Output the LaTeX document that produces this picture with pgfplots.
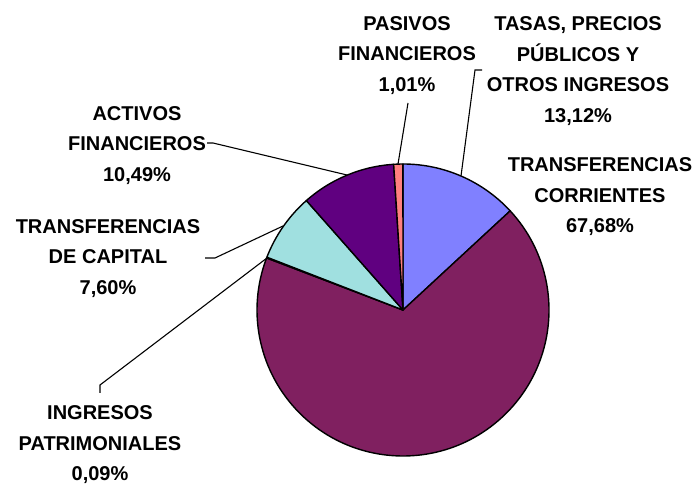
\documentclass[border=0pt]{standalone}
\usepackage{fontspec}
\setmainfont{Liberation Sans}
\usepackage{pgfplots}
\pgfplotsset{compat=1.18}
\definecolor{cTasas}{HTML}{8080FF}
\definecolor{cCorr}{HTML}{802060}
\definecolor{cPatr}{HTML}{FFFFC0}
\definecolor{cCap}{HTML}{A0E0E0}
\definecolor{cAct}{HTML}{600080}
\definecolor{cPas}{HTML}{FF8080}
\tikzset{lbl/.style={font=\bfseries\fontsize{20}{30.5}\selectfont, align=center, inner sep=0pt}}
\begin{document}
\begin{tikzpicture}
\begin{axis}[
    scale only axis,
    width=698pt, height=487pt,
    xmin=0, xmax=698, ymin=0, ymax=487,
    hide axis, clip=false,
]
\path (axis cs:0,0) rectangle (axis cs:698,487);

% slices, clockwise from 12 o'clock (percent)
\def\s{90}
\foreach \v/\c in {13.12/cTasas, 67.68/cCorr, 0.09/cPatr, 7.60/cCap, 10.49/cAct, 1.01/cPas} {
    \pgfmathsetmacro\e{\s-3.6*\v}
    \edef\tmp{\noexpand\filldraw[fill=\c, draw=black, line width=1.4pt, line join=round]
        (axis cs:403,177) -- ++(\s:146pt) arc[start angle=\s, end angle=\e, radius=146pt] -- cycle;}
    \tmp
    \global\let\s\e
}

% leader lines
\draw[line width=1.1pt] (axis cs:408,384) -- (axis cs:398,323);
\draw[line width=1.1pt] (axis cs:482,417) -- (axis cs:475,417) -- (axis cs:461,311);
\draw[line width=1.1pt] (axis cs:207,344) -- (axis cs:213,344) -- (axis cs:347,312);
\draw[line width=1.1pt] (axis cs:205,229) -- (axis cs:215,229) -- (axis cs:283,261);
\draw[line width=1.1pt] (axis cs:100,94) -- (axis cs:100,102) -- (axis cs:267,229);

% labels
\node[lbl] at (axis cs:407,431.5) {PASIVOS\\FINANCIEROS\\1,01\%};
\node[lbl] at (axis cs:578,416) {TASAS, PRECIOS\\PÚBLICOS Y\\OTROS INGRESOS\\13,12\%};
\node[lbl] at (axis cs:600,290) {TRANSFERENCIAS\\CORRIENTES\\67,68\%};
\node[lbl] at (axis cs:137,341.5) {ACTIVOS\\FINANCIEROS\\10,49\%};
\node[lbl] at (axis cs:108,228.5) {TRANSFERENCIAS\\DE CAPITAL\\7,60\%};
\node[lbl] at (axis cs:100,42) {INGRESOS\\PATRIMONIALES\\0,09\%};
\end{axis}
\end{tikzpicture}
\end{document}
